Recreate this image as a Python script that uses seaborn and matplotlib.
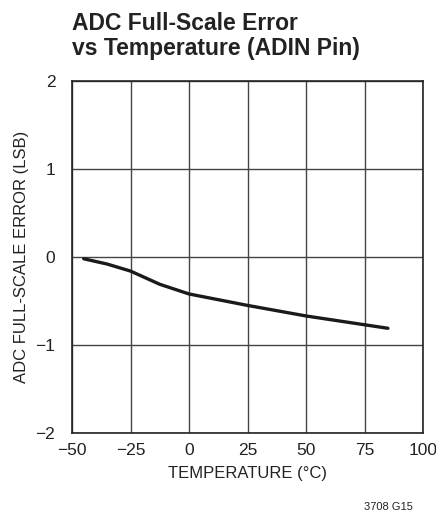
import matplotlib
matplotlib.use("Agg")
import matplotlib.pyplot as plt
import seaborn as sns
import pandas as pd

temperature = [-45, -35, -25, -12.5, 0, 25, 50, 75, 85]
fs_error = [-0.02, -0.08, -0.16, -0.31, -0.42, -0.55, -0.67, -0.77, -0.81]
x_ticks = [-50, -25, 0, 25, 50, 75, 100]
y_ticks = [-2, -1, 0, 1, 2]

sns.set_theme(style="white")
plt.rcParams['font.family'] = ['Liberation Sans', 'DejaVu Sans']

df = pd.DataFrame({"temp": temperature, "err": fs_error})

fig = plt.figure(figsize=(4.36, 5.17), dpi=100)
ax = fig.add_axes([72/436, 1-433/517, (423-72)/436, (433-81)/517])

sns.lineplot(data=df, x="temp", y="err", ax=ax, color="#1a1a1a", linewidth=2.4)

ax.set_xlim(-50, 100)
ax.set_ylim(-2, 2)
ax.set_xticks(x_ticks)
ax.set_yticks(y_ticks)
ax.set_xticklabels([str(t).replace('-', '\u2212') for t in x_ticks], fontsize=12.5, color="#222")
ax.set_yticklabels([str(t).replace('-', '\u2212') for t in y_ticks], fontsize=12.5, color="#222")
ax.tick_params(axis="x", length=0, pad=7)
ax.tick_params(axis="y", length=0, pad=12)
ax.grid(True, color="#444", linewidth=1.0)
for s in ax.spines.values():
    s.set_color("#222")
    s.set_linewidth(1.2)

ax.set_xlabel("TEMPERATURE (°C)", fontsize=12, color="#222", labelpad=6)
ax.set_ylabel("ADC FULL-SCALE ERROR (LSB)", fontsize=12, color="#222", labelpad=5)

fig.text(72/436, 1-12/517, "ADC Full-Scale Error\nvs Temperature (ADIN Pin)", fontsize=16.5,
         fontweight="bold", color="#222", va="top", ha="left", linespacing=1.1)
fig.text(413/436, 1-512/517, "3708 G15", fontsize=8, color="#222", ha="right", va="bottom")

fig.savefig("out.png", dpi=100)
